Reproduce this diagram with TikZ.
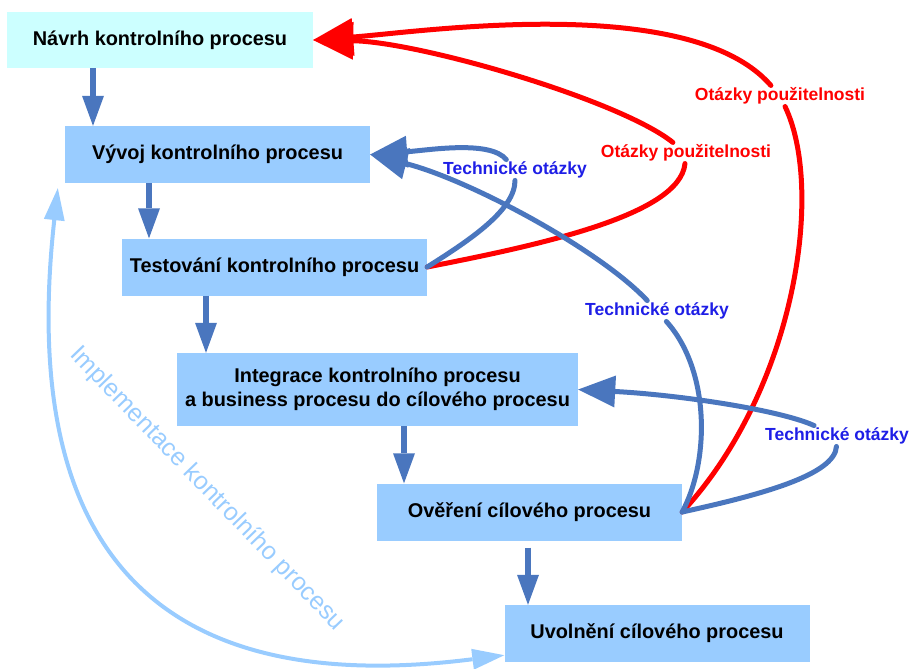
\documentclass[tikz,border=0pt]{standalone}
\usepackage{fontspec}
\setmainfont{Liberation Sans}
\usetikzlibrary{arrows.meta}
\definecolor{stagefill}{HTML}{99CCFF}
\definecolor{startfill}{HTML}{CCFFFF}
\definecolor{flowblue}{HTML}{4A76BE}
\definecolor{techblue}{HTML}{1E1EE6}
\definecolor{usered}{HTML}{FF0000}

\begin{document}
\begin{tikzpicture}[x=1pt, y=-1pt,
  stage/.style={rectangle, fill=stagefill, minimum width=305pt, minimum height=57pt, inner sep=0pt, align=center, font=\fontsize{19.9}{24}\selectfont\bfseries},
  techlabel/.style={text=techblue, inner sep=2pt, font=\fontsize{17.5}{20}\selectfont\bfseries},
  uselabel/.style={techlabel, text=usered},
  flow/.style={draw=flowblue, line width=6pt, -{Triangle[width=22pt,length=30pt,line width=0pt]}},
  techline/.style={draw=flowblue, line width=5pt, line cap=round},
  techhead/.style={-{Triangle[width=32pt,length=37pt,line width=0pt]}},
  useline/.style={draw=usered, line width=5pt, line cap=round},
  usehead/.style={-{Triangle[width=38pt,length=40pt,line width=0pt]}},
  implline/.style={draw=stagefill, line width=4pt, {Triangle[width=21pt,length=32pt,line width=0pt]}-{Triangle[width=21pt,length=32pt,line width=0pt]}}]
\useasboundingbox (0,0) rectangle (913,669);

\node[stage, fill=startfill, minimum width=306pt, minimum height=56pt] (navrh) at (160,40) {Návrh kontrolního procesu};
\node[stage] (vyvoj) at (217.5,154.5) {Vývoj kontrolního procesu};
\node[stage] (test) at (274.5,267) {Testování kontrolního procesu};
\node[stage, minimum width=401pt, minimum height=73pt] (integ) at (377.5,389.5) {Integrace kontrolního procesu\\a business procesu do cílového procesu};
\node[stage] (overeni) at (529.5,512) {Ověření cílového procesu};
\node[stage] (uvolneni) at (657,633.5) {Uvolnění cílového procesu};

\node[techlabel] (tech1) at (515,170) {Technické otázky};
\node[techlabel] (tech2) at (657,311) {Technické otázky};
\node[techlabel] (tech3) at (837,436) {Technické otázky};
\node[uselabel] (pouz1) at (780,96) {Otázky použitelnosti};
\node[uselabel] (pouz2) at (686,153) {Otázky použitelnosti};
\node[text=stagefill, rotate=-46, inner sep=0pt, font=\fontsize{25}{30}\selectfont] (impl) at (207,489) {Implementace kontrolního procesu};

\path ([xshift=-67pt]navrh.south) edge[flow] ([xshift=-124.5pt]vyvoj.north);
\path ([xshift=-68.5pt]vyvoj.south) edge[flow] ([xshift=-125.5pt]test.north);
\path ([xshift=-68.5pt]test.south) edge[flow] ([xshift=-171.5pt]integ.north);
\path ([xshift=26.5pt]integ.south) edge[flow] ([xshift=-125.5pt]overeni.north);
\path ([xshift=-1.5pt,yshift=-7pt]overeni.south) edge[flow] ([xshift=-129pt]uvolneni.north);

\draw[useline] (test.east) .. controls (540,245) and (680,215) .. (pouz2);
\draw[useline, usehead] (pouz2) .. controls (620,100) and (420,42) .. (navrh.east);
\draw[useline] (overeni.east) .. controls (795,390) and (825,190) .. (pouz1);
\draw[useline, usehead] (pouz1) .. controls (690,-8) and (420,32) .. (navrh.east);

\draw[techline] (test.east) .. controls (470,240) and (515,210) .. (tech1);
\draw[techline, techhead] (tech1) .. controls (490,140) and (430,150) .. (vyvoj.east);
\draw[techline] (overeni.east) .. controls (710,460) and (710,370) .. (tech2);
\draw[techline, techhead] (tech2) .. controls (600,250) and (470,180) .. (vyvoj.east);
\draw[techline] (overeni.east) .. controls (760,495) and (835,475) .. (tech3);
\draw[techline, techhead] (tech3) .. controls (780,410) and (680,395) .. (integ.east);

\draw[implline] ([xshift=-7pt,yshift=-5pt]vyvoj.south west) .. controls (10,620) and (230,690) .. ([yshift=7pt]uvolneni.south west);
\end{tikzpicture}
\end{document}
